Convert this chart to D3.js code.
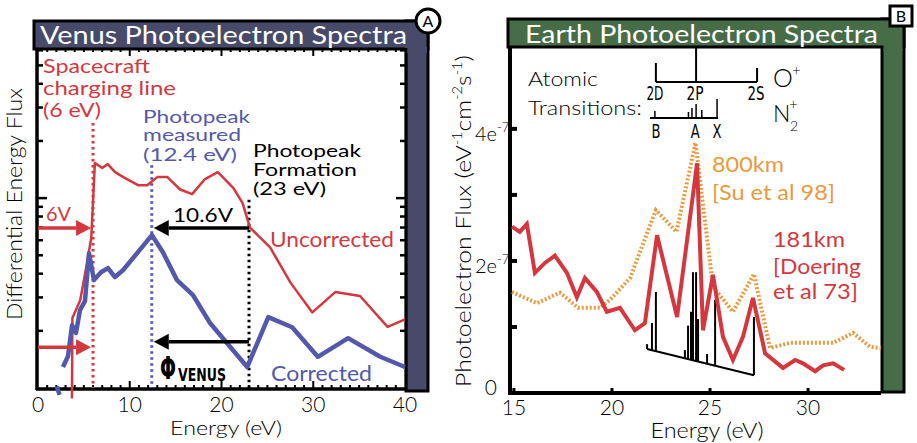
<!DOCTYPE html>
<html><head><meta charset="utf-8">
<script src="https://cdn.jsdelivr.net/npm/d3@7"></script>
<style>body{margin:0;background:#fff}svg{display:block}</style>
</head><body><svg id="c" width="917" height="443" font-family="Lato, 'Open Sans', sans-serif" font-weight="400"></svg>
<script>
// ---------- Venus panel data (energy eV, differential energy flux, log) ----------
const venusUncorrE = [3.7, 3.75, 4.6, 5.2, 5.8, 6.2, 7.0, 7.6, 8.4, 9.3, 10.9, 11.9, 13.0, 14.1, 15.5, 16.8, 18.2, 19.6, 21.3, 22.3, 23.1, 25.3, 27.5, 29.9, 32.4, 35.1, 38.1, 40];
const venusUncorrV = [0.88, 2.34, 2.9, 4.17, 6.15, 15.3, 14.4, 15.1, 13.7, 12.9, 11.7, 11.7, 12.9, 12.9, 11.1, 10.5, 12.6, 13.7, 11.3, 9.4, 7.0, 5.5, 3.6, 2.5, 3.2, 3.05, 2.1, 2.3];
const venusCorrE = [2.05, 2.35, 2.5, 2.72, 3.27, 3.71, 4.14, 4.58, 5.12, 5.56, 6.1, 6.87, 7.63, 8.39, 9.26, 12.42, 13.6, 15.15, 16.9, 18.75, 22.8, 25.1, 27.7, 30.5, 33.8, 37.3, 40];
const venusCorrV = [1.02, 0.92, null, 1.29, 1.47, 2.14, 1.95, 2.57, 2.87, 5.13, 3.7, 4.07, 4.28, 3.84, 4.17, 6.38, 5.2, 3.7, 3.08, 2.2, 1.29, 2.36, 2.09, 1.46, 1.83, 1.46, 1.29];
const venusXTicks = [0, 10, 20, 30, 40];
const venusLogMinor = [2, 3, 4, 5, 6, 7, 8, 9, 20, 30, 40, 50, 60];
const venusLogMajor = [10];
// annotation energies
const chargingE = 6, photopeakMeasE = 12.4, photopeakFormE = 23;

// ---------- Earth panel data ----------
const earth181E = [14.9, 15.3, 15.66, 16.07, 16.58, 17.09, 17.7, 18.21, 18.62, 19.23, 19.74, 20.41, 21.17, 21.68, 22.3, 23.32, 24.34, 24.64, 25.15, 25.66, 26.17, 26.68, 27.19, 27.81, 28.72, 29.34, 29.74, 30.36, 30.77, 31.28, 31.84];
const earth181V = [2.52e-7, 2.44e-7, 2.56e-7, 1.82e-7, 1.97e-7, 2.08e-7, 1.82e-7, 1.45e-7, 1.74e-7, 1.53e-7, 1.23e-7, 1.29e-7, 0.95e-7, 1.06e-7, 2.39e-7, 1.15e-7, 3.48e-7, 0.95e-7, 1.79e-7, 0.85e-7, 0.5e-7, 0.85e-7, 1.44e-7, 0.6e-7, 0.38e-7, 0.5e-7, 0.45e-7, 0.33e-7, 0.42e-7, 0.45e-7, 0.35e-7];
const earth800E = [14.9, 16.17, 17.35, 18.27, 19.39, 19.9, 20.92, 22.24, 23.29, 24.26, 25.15, 26.17, 27.24, 28.06, 29.08, 31.28, 32.3, 33.16, 33.72];
const earth800V = [1.53e-7, 1.36e-7, 1.52e-7, 1.29e-7, 1.29e-7, 1.41e-7, 1.74e-7, 2.77e-7, 2.44e-7, 3.79e-7, 1.61e-7, 1.23e-7, 1.8e-7, 0.68e-7, 0.76e-7, 0.76e-7, 0.91e-7, 0.70e-7, 0.68e-7];
const n2StickE = [21.79, 22.04, 22.24, 23.72, 23.88, 24.03, 24.13, 24.29, 24.39, 24.85, 25.26, 27.24];
const n2StickV = [0.74e-7, 1.06e-7, 1.53e-7, 0.65e-7, 1.02e-7, 1.23e-7, 1.83e-7, 1.83e-7, 1.12e-7, 0.59e-7, 1.41e-7, 1.15e-7];
const n2BaseE = [21.79, 27.24];
const n2BaseV = [0.667e-7, 0.27e-7];
const earthXTicks = [15, 20, 25, 30];
const earthYTicks = [1e-7, 2e-7, 3e-7, 4e-7];
const earthYLabelVals = [0, 2e-7, 4e-7];
const earthYLabelMant = ["0", "2e", "4e"];
const earthYLabelExp = ["", "-7", "-7"];
// atomic transition levels (eV)
const oPlusE = [22.24, 24.29, 27.4], oPlusLab = ["2D", "2P", "2S"], oPlusH = [19, 35, 14];
const n2PlusTickE = [22.19, 23.9, 24.08, 24.29, 24.58, 25.36], n2PlusTickH = [7, 6, 10, 14, 8, 19];
const n2PlusLabE = [22.24, 24.25, 25.36], n2PlusLab = ["B", "A", "X"];

const RED = "#d4383e", BLUE = "#5458ab", ORANGE = "#e99a3f", SLATE = "#474a68", GREEN = "#476d48";
const NARROW = "'Liberation Sans Narrow', 'DejaVu Sans Condensed', 'Liberation Sans', sans-serif";
const svg = d3.select("#c");

function txt(g, s, x, y, o = {}) {
  const t = g.append("text").attr("x", x).attr("y", y).text(s)
    .attr("font-size", o.size || 20).attr("fill", o.fill || "#000")
    .attr("text-anchor", o.anchor || "start");
  if (o.len) t.attr("textLength", o.len).attr("lengthAdjust", "spacingAndGlyphs");
  if (o.family) t.attr("font-family", o.family);
  if (o.weight) t.attr("font-weight", o.weight);
  return t;
}

// ================= VENUS =================
const xV = d3.scaleLinear().domain([0, 40]).range([38, 405]);
const yV = d3.scaleLog().domain([1, 61]).range([388, 49]);
const gV = svg.append("g");

gV.append("rect").attr("x", 406).attr("y", 21).attr("width", 22).attr("height", 370).attr("fill", SLATE).attr("stroke", "#000").attr("stroke-width", 3);
gV.append("rect").attr("x", 34).attr("y", 21).attr("width", 394).attr("height", 28).attr("fill", SLATE).attr("stroke", "#000").attr("stroke-width", 3);
gV.append("rect").attr("x", 405).attr("y", 47).attr("width", 22).attr("height", 6).attr("fill", SLATE);
txt(gV, "Venus Photoelectron Spectra", 40, 44, { size: 25, fill: "#fff", len: 367 });
gV.append("circle").attr("cx", 428).attr("cy", 21).attr("r", 12).attr("fill", "#fff").attr("stroke", "#000").attr("stroke-width", 3);
txt(gV, "A", 428, 27, { size: 16, anchor: "middle" });

gV.append("line").attr("x1", xV(0) - 1).attr("x2", xV(0) - 1).attr("y1", 48).attr("y2", 390).attr("stroke", "#000").attr("stroke-width", 3.5);
gV.append("line").attr("x1", xV(0) - 2).attr("x2", xV(40) + 1).attr("y1", yV(1) + 1).attr("y2", yV(1) + 1).attr("stroke", "#000").attr("stroke-width", 3.5);
gV.append("line").attr("x1", xV(40) + 1).attr("x2", xV(40) + 1).attr("y1", 48).attr("y2", 390).attr("stroke", "#000").attr("stroke-width", 2.5);
d3.range(1, 40).forEach(e => {
  const major = venusXTicks.includes(e);
  const L = major ? 7 : 3;
  gV.append("line").attr("x1", xV(e)).attr("x2", xV(e)).attr("y1", yV(1)).attr("y2", yV(1) - L).attr("stroke", "#000").attr("stroke-width", 2);
  gV.append("line").attr("x1", xV(e)).attr("x2", xV(e)).attr("y1", 49).attr("y2", 49 + L).attr("stroke", "#000").attr("stroke-width", 2);
});
venusLogMinor.concat(venusLogMajor).forEach(v => {
  const L = venusLogMajor.includes(v) ? 9 : 5;
  gV.append("line").attr("x1", xV(0)).attr("x2", xV(0) + L).attr("y1", yV(v)).attr("y2", yV(v)).attr("stroke", "#000").attr("stroke-width", 2.5);
  gV.append("line").attr("x1", xV(40)).attr("x2", xV(40) - L).attr("y1", yV(v)).attr("y2", yV(v)).attr("stroke", "#000").attr("stroke-width", 2.5);
});
venusXTicks.forEach(e => txt(gV, String(e), xV(e), 412, { size: 21, anchor: "middle", weight: 300 }));
txt(gV, "Energy (eV)", xV(20.5), 435, { size: 20, anchor: "middle", len: 112, weight: 300 });
txt(gV, "Differential Energy Flux", 0, 0, { size: 21, anchor: "middle", len: 232, weight: 300 }).attr("transform", "translate(22,204) rotate(-90)");

[[chargingE, 24.9, RED], [photopeakMeasE, 14.9, BLUE], [photopeakFormE, 9.8, "#000"]].forEach(([e, top, c]) => {
  gV.append("line").attr("x1", xV(e)).attr("x2", xV(e)).attr("y1", yV(top)).attr("y2", yV(1)).attr("stroke", c).attr("stroke-width", 3).attr("stroke-dasharray", "2.5,3.5");
});

const lineV = d3.line().defined(d => d[1] != null).x(d => xV(d[0])).y(d => yV(d[1]));
gV.append("path").datum(venusUncorrE.map((e, i) => [e, venusUncorrV[i]])).attr("d", lineV).attr("fill", "none").attr("stroke", RED).attr("stroke-width", 2.5).attr("stroke-linejoin", "round");
gV.append("path").datum(venusCorrE.map((e, i) => [e, venusCorrV[i]])).attr("d", lineV).attr("fill", "none").attr("stroke", BLUE).attr("stroke-width", 4.5).attr("stroke-linejoin", "round");

function arrow(g, x1, x2, y, color, w, hl, hw) {
  const dir = Math.sign(x2 - x1);
  g.append("line").attr("x1", x1).attr("x2", x2 - dir * hl).attr("y1", y).attr("y2", y).attr("stroke", color).attr("stroke-width", w);
  g.append("path").attr("d", `M${x2},${y} L${x2 - dir * hl},${y - hw} L${x2 - dir * hl},${y + hw} Z`).attr("fill", color);
}
arrow(gV, xV(0), xV(chargingE) - 2, yV(6.95), RED, 3.5, 15, 8);
arrow(gV, xV(0), xV(chargingE) - 2, yV(1.64), RED, 3.5, 15, 8);
arrow(gV, xV(photopeakFormE), xV(photopeakMeasE) + 2, yV(6.95), "#000", 3.5, 15, 8);
arrow(gV, xV(photopeakFormE), xV(photopeakMeasE) + 2, yV(1.75), "#000", 3.5, 15, 8);

txt(gV, "Spacecraft", 43, 73, { size: 19, fill: RED, len: 107 });
txt(gV, "charging line", 43, 95, { size: 19, fill: RED, len: 133 });
txt(gV, "(6 eV)", 43, 117, { size: 19, fill: RED, len: 58 });
txt(gV, "Photopeak", 143, 123, { size: 17, fill: BLUE, len: 107 });
txt(gV, "measured", 143, 141, { size: 17, fill: BLUE, len: 98 });
txt(gV, "(12.4 eV)", 143, 161, { size: 17, fill: BLUE, len: 94 });
txt(gV, "Photopeak", 253, 157, { size: 17, len: 108 });
txt(gV, "Formation", 253, 176, { size: 17, len: 104 });
txt(gV, "(23 eV)", 253, 195, { size: 17, len: 73 });
txt(gV, "6V", 46, 221, { size: 20, fill: RED, len: 25 });
txt(gV, "10.6V", 173, 222, { size: 20, len: 60 });
txt(gV, "Uncorrected", 270, 247, { size: 21, fill: RED, len: 124 });
txt(gV, "Corrected", 271, 381, { size: 21, fill: BLUE, len: 101 });
txt(gV, "Φ", 160, 379, { size: 31, weight: "bold", family: "'DejaVu Sans', sans-serif", len: 16 });
txt(gV, "VENUS", 178, 381, { size: 17, weight: "bold", family: NARROW, len: 48 });

// ================= EARTH =================
const xE = d3.scaleLinear().domain([14.8, 33.72]).range([510, 881]);
const yE = d3.scaleLinear().domain([0, 5.24e-7]).range([393, 47]);
const gE = svg.append("g");

gE.append("rect").attr("x", 882).attr("y", 19).attr("width", 22).attr("height", 373).attr("fill", GREEN).attr("stroke", "#000").attr("stroke-width", 3);
gE.append("rect").attr("x", 508).attr("y", 19).attr("width", 396).attr("height", 28).attr("fill", GREEN).attr("stroke", "#000").attr("stroke-width", 3);
gE.append("rect").attr("x", 883.5).attr("y", 45).attr("width", 19).attr("height", 6).attr("fill", GREEN);
txt(gE, "Earth Photoelectron Spectra", 525, 43, { size: 25, fill: "#fff", len: 353 });
gE.append("rect").attr("x", 890).attr("y", 6).attr("width", 22).attr("height", 20).attr("fill", "#fff").attr("stroke", "#000").attr("stroke-width", 3);
txt(gE, "B", 901, 22, { size: 16, anchor: "middle" });

gE.append("line").attr("x1", xE(14.8)).attr("x2", xE(14.8)).attr("y1", 46).attr("y2", 394).attr("stroke", "#000").attr("stroke-width", 4);
gE.append("line").attr("x1", xE(14.8) - 2).attr("x2", xE(33.72)).attr("y1", yE(0)).attr("y2", yE(0)).attr("stroke", "#000").attr("stroke-width", 4);
earthXTicks.forEach(e => {
  gE.append("line").attr("x1", xE(e)).attr("x2", xE(e)).attr("y1", yE(0)).attr("y2", yE(0) - 5).attr("stroke", "#000").attr("stroke-width", 3);
  txt(gE, String(e), xE(e), 415, { size: 21, anchor: "middle", weight: 300 });
});
earthYTicks.forEach(v => gE.append("line").attr("x1", xE(14.8)).attr("x2", xE(14.8) + 7).attr("y1", yE(v)).attr("y2", yE(v)).attr("stroke", "#000").attr("stroke-width", 4));
earthYLabelVals.forEach((v, i) => {
  if (v === 0) { txt(gE, "0", 497, yE(0) + 2, { size: 21, anchor: "end", weight: 300 }); return; }
  const t = txt(gE, earthYLabelMant[i], 475, yE(v) + 12, { size: 20, weight: 300 });
  t.append("tspan").attr("dy", -9).attr("font-size", 13).text(earthYLabelExp[i]);
});
txt(gE, "Energy (eV)", 707, 438, { size: 21, anchor: "middle", len: 113, weight: 300 });
const yl = gE.append("text").attr("transform", "translate(471,221) rotate(-90)").attr("text-anchor", "middle").attr("font-size", 22).attr("font-weight", 300)
  .attr("textLength", 332).attr("lengthAdjust", "spacingAndGlyphs");
yl.append("tspan").text("Photoelectron Flux (eV");
yl.append("tspan").attr("dy", -9).attr("font-size", 13).text("-1");
yl.append("tspan").attr("dy", 9).text("cm");
yl.append("tspan").attr("dy", -9).attr("font-size", 13).text("-2");
yl.append("tspan").attr("dy", 9).text("s");
yl.append("tspan").attr("dy", -9).attr("font-size", 13).text("-1");
yl.append("tspan").attr("dy", 9).text(")");

const baseV = d3.scaleLinear().domain(n2BaseE).range(n2BaseV);
gE.append("line").attr("x1", xE(n2BaseE[0])).attr("x2", xE(n2BaseE[1])).attr("y1", yE(n2BaseV[0])).attr("y2", yE(n2BaseV[1])).attr("stroke", "#000").attr("stroke-width", 2);
n2StickE.forEach((e, i) => gE.append("line").attr("x1", xE(e)).attr("x2", xE(e)).attr("y1", yE(baseV(e))).attr("y2", yE(n2StickV[i])).attr("stroke", "#000").attr("stroke-width", 2));

const lineE = d3.line().x(d => xE(d[0])).y(d => yE(d[1]));
gE.append("path").datum(earth800E.map((e, i) => [e, earth800V[i]])).attr("d", lineE).attr("fill", "none").attr("stroke", ORANGE).attr("stroke-width", 4).attr("stroke-dasharray", "2,2");
gE.append("path").datum(earth181E.map((e, i) => [e, earth181V[i]])).attr("d", lineE).attr("fill", "none").attr("stroke", RED).attr("stroke-width", 4).attr("stroke-linejoin", "miter");

txt(gE, "Atomic", 528, 86, { size: 19, len: 70, weight: 300 });
txt(gE, "Transitions:", 528, 115, { size: 19, len: 114, weight: 300 });
const oY = 82, nY = 118;
gE.append("line").attr("x1", xE(oPlusE[0])).attr("x2", xE(oPlusE[2])).attr("y1", oY).attr("y2", oY).attr("stroke", "#000").attr("stroke-width", 2);
oPlusE.forEach((e, i) => {
  gE.append("line").attr("x1", xE(e)).attr("x2", xE(e)).attr("y1", oY).attr("y2", oY - oPlusH[i]).attr("stroke", "#000").attr("stroke-width", 2);
  txt(gE, oPlusLab[i], xE(e) - 1, 100, { size: 19, anchor: "middle", family: NARROW, len: 17 });
});
gE.append("line").attr("x1", xE(21.94)).attr("x2", xE(25.41)).attr("y1", nY).attr("y2", nY).attr("stroke", "#000").attr("stroke-width", 2);
n2PlusTickE.forEach((e, i) => gE.append("line").attr("x1", xE(e)).attr("x2", xE(e)).attr("y1", nY).attr("y2", nY - n2PlusTickH[i]).attr("stroke", "#000").attr("stroke-width", 1.5));
n2PlusLabE.forEach((e, i) => txt(gE, n2PlusLab[i], xE(e), 138, { size: 19, anchor: "middle", family: NARROW, len: 9 }));
txt(gE, "O", 773, 87, { size: 25, weight: 300 });
txt(gE, "+", 792, 76, { size: 15, weight: 300 });
txt(gE, "N", 773, 122, { size: 23, weight: 300 });
txt(gE, "+", 789, 110, { size: 15, weight: 300 });
txt(gE, "2", 790, 131, { size: 14, weight: 300 });

txt(gE, "800km", 712, 172, { size: 21, fill: ORANGE, len: 72 });
txt(gE, "[Su et al 98]", 712, 200, { size: 21, fill: ORANGE, len: 123 });
txt(gE, "181km", 773, 247, { size: 22, fill: RED, len: 72 });
txt(gE, "[Doering", 773, 274, { size: 22, fill: RED, len: 88 });
txt(gE, "et al 73]", 773, 299, { size: 22, fill: RED, len: 85 });
</script></body></html>
